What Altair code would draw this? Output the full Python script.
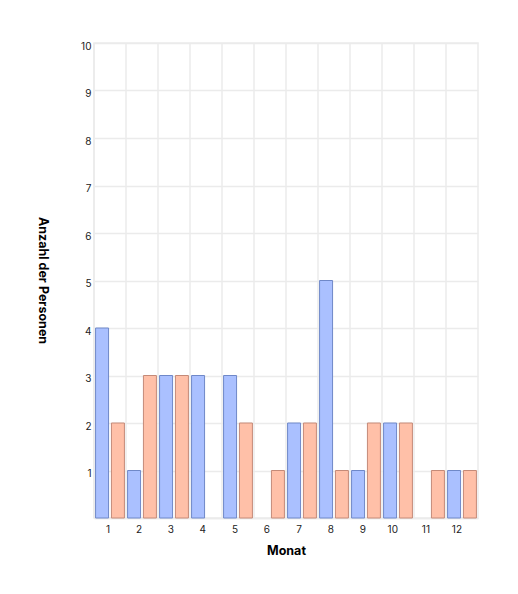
import altair as alt
import pandas as pd

months = [1, 2, 3, 4, 5, 6, 7, 8, 9, 10, 11, 12]
series_a = [4, 1, 3, 3, 3, 0, 2, 5, 1, 2, 0, 1]
series_b = [2, 3, 3, 0, 2, 1, 2, 1, 2, 2, 1, 1]
series_names = ["A", "B"]

rows = []
for i, m in enumerate(months):
    rows.append({"Monat": m, "Gruppe": series_names[0], "Anzahl": series_a[i]})
    rows.append({"Monat": m, "Gruppe": series_names[1], "Anzahl": series_b[i]})
df = pd.DataFrame(rows)
df_months = pd.DataFrame({"Monat": months})

grid_color = "#ebebeb"
font = "Inter"

xscale = alt.Scale(paddingInner=0, paddingOuter=0)

bars = alt.Chart(df).transform_filter("datum.Anzahl > 0").mark_bar(strokeWidth=1).encode(
    x=alt.X("Monat:O", scale=xscale, sort=months,
            axis=alt.Axis(title="Monat", labelAngle=0, ticks=False, grid=False,
                          domainColor=grid_color, domainWidth=1.5,
                          labelPadding=11, labelFontSize=10, labelColor="#222",
                          titleFontSize=12.5, titleFontWeight="bold", titlePadding=10,
                          labelFont=font, titleFont=font)),
    xOffset=alt.XOffset("Gruppe:N", scale=alt.Scale(domain=series_names, paddingInner=0.18, paddingOuter=0.1)),
    y=alt.Y("Anzahl:Q", scale=alt.Scale(domain=[0, 10], nice=False),
            axis=alt.Axis(title="Anzahl der Personen", values=list(range(0, 11)),
                          labelExpr="datum.value == 0 ? '' : datum.label",
                          ticks=False, domain=False, gridColor=grid_color, gridWidth=1.5,
                          labelPadding=3, labelOffset=3, labelFontSize=10, labelColor="#222",
                          titleAngle=90, titleX=-52, titleY=237, titleAlign="center",
                          titleBaseline="middle",
                          titleFontSize=12.5, titleFontWeight="bold",
                          labelFont=font, titleFont=font)),
    color=alt.Color("Gruppe:N", scale=alt.Scale(domain=series_names, range=["#aac0ff", "#ffc0a8"]), legend=None),
    stroke=alt.Stroke("Gruppe:N", scale=alt.Scale(domain=series_names, range=["#6f88c8", "#c48a78"]), legend=None),
)

rules = alt.Chart(df_months).mark_rule(color=grid_color, strokeWidth=1.5).encode(
    x=alt.X("Monat:O", scale=xscale, sort=months, bandPosition=0)
)

chart = alt.layer(rules, bars).properties(
    width=384, height=475,
    autosize=alt.AutoSizeParams(type="none"),
    padding={"left": 86, "top": 35, "right": 30, "bottom": 60},
).configure_view(stroke=grid_color, strokeWidth=1.5)

chart.save("out.html", embed_options={"renderer": "svg", "actions": False})
